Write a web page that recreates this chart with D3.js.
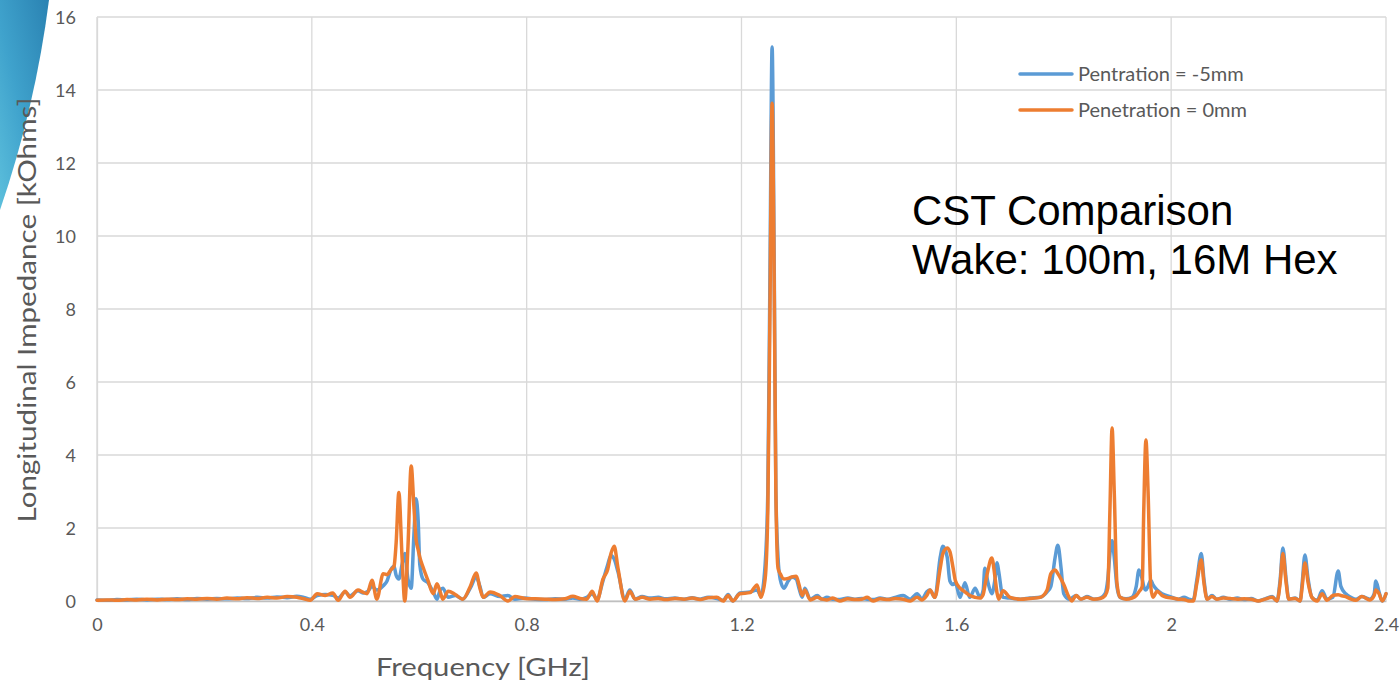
<!DOCTYPE html>
<html>
<head>
<meta charset="utf-8">
<script src="https://cdn.jsdelivr.net/npm/d3@7"></script>
<style>
  html, body { margin: 0; padding: 0; background: #ffffff; }
  svg { display: block; }
</style>
</head>
<body>
<svg id="chart" width="1400" height="686"></svg>
<script>
// Frequency samples [GHz]
const freq = [
  0, .019, .037, .056, .074, .093, .112, .130, .149, .168, .186, .205, .223, .242, .261, .279, .298, .317, .335, .354, .372,
  .385, .397, .410, .425, .439, .449, .462, .471, .486, .495, .503, .512, .521, .533, .540, .547, .553, .557, .562, .568,
  .573, .579, .585, .590, .594, .598, .601, .607, .616, .626, .633, .639, .644, .654, .667, .681, .695, .706, .713, .719,
  .732, .750, .765, .778, .797, .816, .834, .853, .871, .886, .899, .912, .922, .931, .942, .951, .957, .963, .970, .983,
  .992, 1.002, 1.015, 1.030, 1.045, 1.059, 1.076, 1.093, 1.108, 1.123, 1.138, 1.154, 1.166, 1.175, 1.184, 1.197, 1.216,
  1.229, 1.236, 1.244, 1.249, 1.253, 1.257, 1.261, 1.264, 1.268, 1.272, 1.279, 1.287, 1.294, 1.302, 1.307, 1.313, 1.318,
  1.328, 1.341, 1.350, 1.359, 1.370, 1.383, 1.398, 1.413, 1.424, 1.434, 1.445, 1.458, 1.473, 1.486, 1.501, 1.514, 1.527,
  1.536, 1.545, 1.551, 1.560, 1.570, 1.575, 1.583, 1.588, 1.594, 1.598, 1.607, 1.616, 1.625, 1.635, 1.644, 1.650, 1.653,
  1.659, 1.666, 1.672, 1.676, 1.679, 1.687, 1.700, 1.719, 1.737, 1.756, 1.769, 1.776, 1.784, 1.789, 1.795, 1.800, 1.810,
  1.815, 1.823, 1.832, 1.843, 1.856, 1.868, 1.877, 1.882, 1.886, 1.890, 1.894, 1.899, 1.905, 1.916, 1.927, 1.935, 1.940,
  1.946, 1.949, 1.953, 1.957, 1.962, 1.966, 1.974, 1.983, 1.992, 2.002, 2.013, 2.024, 2.033, 2.041, 2.048, 2.056, 2.061,
  2.067, 2.076, 2.085, 2.097, 2.110, 2.123, 2.136, 2.149, 2.162, 2.175, 2.188, 2.197, 2.203, 2.208, 2.214, 2.219, 2.231,
  2.240, 2.244, 2.249, 2.255, 2.262, 2.272, 2.281, 2.290, 2.301, 2.311, 2.316, 2.325, 2.335, 2.344, 2.355, 2.370, 2.378,
  2.381, 2.387, 2.393, 2.400
];

// Longitudinal impedance [kOhms], penetration = -5 mm
const zMinus5 = [
  .03, .02, .04, .03, .05, .03, .05, .04, .06, .04, .07, .05, .07, .06, .08, .07, .10, .08, .11, .09, .13,
  .10, .05, .15, .18, .16, .08, .25, .14, .28, .22, .25, .40, .30, .42, .55, .85, .95, .70, .60, 1.0,
  1.3, .60, .35, 1.8, 2.80, 2.2, 1.0, .60, .50, .25, .05, .30, .35, .10, .15, .05, .35, .65, .40, .10,
  .20, .12, .15, .05, .08, .05, .04, .06, .05, .08, .05, .10, .20, .05, .55, 1.0, 1.25, 1.15, .80, .05,
  .30, .05, .12, .08, .10, .06, .08, .05, .09, .05, .10, .07, .02, .18, 0, .22, .25,
  .30, .15, 1.0, 3.0, 9.0, 15.18, 9.0, 3.0, 1.2, .60, .35, .55, .65, .60, .35, .10, .35,
  .05, .15, .05, .10, .05, .04, .08, .05, .07, .05, .04, .08, .05, .10, .15, .05, .20,
  .05, .25, .30, .10, 1.2, 1.50, 1.2, .55, .45, .50, .10, .50, .10, .35, .10, .30, .90,
  .50, .20, .60, 1.05, .80, .10, .08, .05, .08, .10, .25, .40, 1.2, 1.53, .90, .20, .05,
  .08, .15, .05, .12, .05, .08, .20, .60, 1.3, 1.65, 1.2, .40, .10, .06, .10, .40, .85,
  .60, .40, .30, .40, .57, .45, .30, .20, .15, .10, .05, .10, .05, .02, .60, 1.30, .60,
  .05, .15, .05, .10, .05, .08, .04, .07, 0, .06, .12, 0, .60, 1.45, .60, .05, .08,
  0, .50, 1.26, .60, .10, .02, .28, .05, .10, .82, .40, .20, .10, .05, .12, .05, .20,
  .55, .25, 0, .20
];

// Longitudinal impedance [kOhms], penetration = 0 mm
const zZero = [
  .02, .03, .02, .04, .03, .05, .03, .05, .04, .06, .05, .07, .05, .08, .06, .09, .07, .10, .08, .12, .10,
  .06, .02, .20, .15, .22, .02, .27, .10, .30, .24, .20, .57, .05, .75, .72, .85, .95, 1.6, 2.97, 1.2,
  0, 1.5, 3.70, 2.6, 1.7, 1.4, 1.2, .93, .57, .20, .47, .25, .05, .27, .18, .05, .40, .77, .35, .10,
  .25, .15, 0, .12, .07, .06, .05, .04, .06, .13, .07, .05, .27, 0, .60, .87, 1.3, 1.5, .90, 0,
  .27, .05, .10, .05, .07, .04, .07, .05, .08, .04, .09, .10, 0, .15, 0, .20, .23,
  .44, .10, .60, 2.5, 8.0, 13.64, 8.5, 3.0, .90, .75, .60, .62, .66, .68, .45, .15, .30,
  .03, .10, .05, .03, .08, 0, .06, .04, .05, .10, 0, .06, .04, .07, .05, 0, .10,
  .03, .15, .30, .10, .90, 1.3, 1.45, 1.35, .90, .57, .35, .25, .15, .10, .08, .18, .40,
  .85, 1.18, .65, .20, .05, .28, .10, .05, .07, .10, .30, .75, .85, .75, .60, .45, .10,
  0, .15, .05, .10, .05, .07, .15, .35, 2.5, 4.74, 3.0, .50, .10, .05, .08, .15, .25,
  .40, 2.5, 4.41, 3.0, .40, .10, .27, .15, .10, .08, .05, .04, 0, 0, .50, 1.12, .50,
  .05, .12, .05, .08, .07, .05, .06, .05, 0, .05, .10, 0, .50, 1.30, .50, .05, .07,
  0, .40, 1.04, .50, .10, 0, .20, .02, .15, .17, .15, .12, .05, .02, .12, .03, .15,
  .30, .20, 0, .20
];

const xTicks = [0, 0.4, 0.8, 1.2, 1.6, 2.0, 2.4];
const xTickLabels = ["0", "0.4", "0.8", "1.2", "1.6", "2", "2.4"];
const yTicks = [0, 2, 4, 6, 8, 10, 12, 14, 16];

const seriesNames = ["Pentration = -5mm", "Penetration = 0mm"];
const seriesColors = ["#5b9bd5", "#ed7d31"];

const svg = d3.select("#chart");
const plot = { left: 97, right: 1386, top: 17, bottom: 601 };

const x = d3.scaleLinear().domain([0, 2.4]).range([plot.left, plot.right]);
const y = d3.scaleLinear().domain([0, 16]).range([plot.bottom, plot.top]);

const uiFont = "Lato, 'Open Sans', 'DejaVu Sans', sans-serif";
const labelColor = "#595959";

// Corner swoosh
const defs = svg.append("defs");
const grad = defs.append("linearGradient")
  .attr("id", "swoosh").attr("x1", "1").attr("y1", "0").attr("x2", "0").attr("y2", "1");
grad.append("stop").attr("offset", "0").attr("stop-color", "#2a82b2");
grad.append("stop").attr("offset", "0.55").attr("stop-color", "#3fa2cc");
grad.append("stop").attr("offset", "1").attr("stop-color", "#5cbfdc");
svg.append("path")
  .attr("d", "M0,0 H49 C40,70 24,140 0,210 Z")
  .attr("fill", "url(#swoosh)");

// Gridlines
svg.append("g").selectAll("line").data(yTicks).join("line")
  .attr("x1", plot.left).attr("x2", plot.right)
  .attr("y1", d => y(d)).attr("y2", d => y(d))
  .attr("stroke", "#d9d9d9").attr("stroke-width", 1.3);
svg.append("g").selectAll("line").data(xTicks).join("line")
  .attr("x1", d => x(d)).attr("x2", d => x(d))
  .attr("y1", plot.top).attr("y2", plot.bottom)
  .attr("stroke", "#d9d9d9").attr("stroke-width", 1.3);

// Axes
const xAxis = d3.axisBottom(x).tickValues(xTicks)
  .tickFormat((d, i) => xTickLabels[i]).tickSize(0).tickPadding(30);
const gx = svg.append("g").attr("transform", `translate(0,${plot.bottom})`).call(xAxis);
gx.select(".domain").attr("stroke", "#bfbfbf").attr("stroke-width", 1.3);
gx.selectAll("text").attr("font-family", uiFont).attr("font-size", 18).attr("fill", labelColor).attr("dy", "0");

const yAxis = d3.axisLeft(y).tickValues(yTicks).tickSize(0).tickPadding(21);
const gy = svg.append("g").attr("transform", `translate(${plot.left},0)`).call(yAxis);
gy.select(".domain").attr("stroke", "#d9d9d9").attr("stroke-width", 1.3);
gy.selectAll("text").attr("font-family", uiFont).attr("font-size", 18).attr("fill", labelColor).attr("dy", "0.34em");

// Axis titles
svg.append("text")
  .attr("x", 483).attr("y", 676)
  .attr("text-anchor", "middle")
  .attr("font-family", uiFont).attr("font-size", 25).attr("fill", labelColor)
  .attr("textLength", 214).attr("lengthAdjust", "spacingAndGlyphs")
  .text("Frequency [GHz]");
svg.append("text")
  .attr("transform", "translate(36,310) rotate(-90)")
  .attr("text-anchor", "middle")
  .attr("font-family", uiFont).attr("font-size", 25).attr("fill", labelColor)
  .attr("textLength", 425).attr("lengthAdjust", "spacingAndGlyphs")
  .text("Longitudinal Impedance [kOhms]");

// Series
const line = d3.line()
  .x((d, i) => x(freq[i]))
  .y(d => y(d))
  .curve(d3.curveMonotoneX);

[zMinus5, zZero].forEach((vals, k) => {
  svg.append("path")
    .datum(vals)
    .attr("d", line)
    .attr("fill", "none")
    .attr("stroke", seriesColors[k])
    .attr("stroke-width", 3.5)
    .attr("stroke-linejoin", "round")
    .attr("stroke-linecap", "round");
});

// Legend
const legend = svg.append("g");
seriesNames.forEach((name, k) => {
  const ly = 74 + k * 36;
  legend.append("line")
    .attr("x1", 1020).attr("x2", 1072).attr("y1", ly).attr("y2", ly)
    .attr("stroke", seriesColors[k]).attr("stroke-width", 3.5).attr("stroke-linecap", "round");
  legend.append("text")
    .attr("x", 1078).attr("y", ly).attr("dy", "0.35em")
    .attr("font-family", uiFont).attr("font-size", 20).attr("fill", labelColor)
    .text(name);
});

// Annotation
const note = svg.append("g")
  .attr("font-family", "'Liberation Sans', Arial, sans-serif")
  .attr("font-size", 42).attr("fill", "#000000");
note.append("text").attr("x", 912).attr("y", 225).text("CST Comparison");
note.append("text").attr("x", 912).attr("y", 274).text("Wake: 100m, 16M Hex");
</script>
</body>
</html>
